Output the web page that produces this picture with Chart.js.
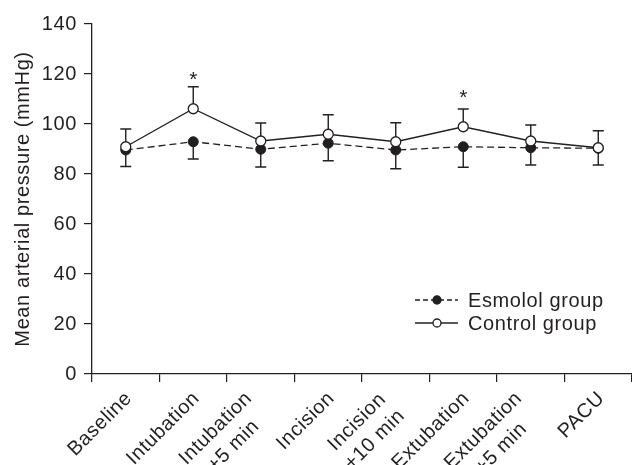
<!DOCTYPE html>
<html><head><meta charset="utf-8">
<script src="https://cdn.jsdelivr.net/npm/chart.js@4/dist/chart.umd.min.js"></script>
<style>html,body{margin:0;padding:0;background:#fff;}canvas{display:block;}</style>
</head><body>
<canvas id="c" width="632" height="465" style="width:632px;height:465px"></canvas>
<script>
const categories = ['Baseline', 'Intubation', ['Intubation', '+5 min'], 'Incision', ['Incision', '+10 min'], 'Extubation', ['Extubation', '+5 min'], 'PACU'];
const esmololMean = [89.6, 92.9, 89.9, 92.3, 89.6, 90.9, 90.5, 90.3];
const esmololSD   = [6.6, 6.9, 7.1, 7.0, 7.5, 8.2, 6.9, 6.7];
const controlMean = [90.9, 106.1, 93.2, 95.9, 92.9, 98.9, 93.2, 90.5];
const controlSD   = [7.1, 8.8, 7.2, 7.8, 7.6, 7.1, 6.4, 6.8];
const significanceMark = [null, 120, null, null, null, 113, null, null];
const seriesNames = ['Esmolol group', 'Control group'];
const yMin = 0, yMax = 140, yStep = 20;
const yTitle = 'Mean arterial pressure (mmHg)';

const INK = '#231f20';
const FONT = "'Liberation Sans', Arial, Helvetica, sans-serif";
const SPACING = '0.6px';
Chart.defaults.font.family = FONT;
Chart.defaults.font.size = 20;
Chart.defaults.color = INK;

const spacingPlugin = {
  id: 'spacing',
  beforeUpdate(c) { c.ctx.letterSpacing = SPACING; },
  beforeDraw(c) { c.ctx.letterSpacing = SPACING; },
  resize(c) { c.ctx.letterSpacing = SPACING; }
};

const errorBars = {
  id: 'errorBars',
  beforeDatasetsDraw(chart) {
    const { ctx, scales: { x, y } } = chart;
    ctx.save();
    ctx.strokeStyle = INK;
    ctx.lineWidth = 1.4;
    const cap = 5.5;
    categories.forEach((_, i) => {
      const px = x.getPixelForValue(i);
      const seg = (v0, v1) => {
        const a = y.getPixelForValue(v0), b = y.getPixelForValue(v1);
        ctx.beginPath();
        ctx.moveTo(px, a); ctx.lineTo(px, b);
        ctx.moveTo(px - cap, b); ctx.lineTo(px + cap, b);
        ctx.stroke();
      };
      seg(controlMean[i], controlMean[i] + controlSD[i]);
      seg(esmololMean[i], esmololMean[i] - esmololSD[i]);
    });
    ctx.restore();
  },
  afterDatasetsDraw(chart) {
    const { ctx, scales: { x, y } } = chart;
    ctx.save();
    ctx.fillStyle = INK;
    ctx.font = '21px ' + FONT;
    ctx.letterSpacing = '0px';
    ctx.textAlign = 'center';
    ctx.textBaseline = 'alphabetic';
    significanceMark.forEach((v, i) => {
      if (v === null) return;
      ctx.fillText('*', x.getPixelForValue(i), y.getPixelForValue(v) + 12);
    });
    ctx.restore();
  }
};

const xLabels = {
  id: 'xLabels',
  afterDraw(chart) {
    const { ctx, scales: { x } } = chart;
    ctx.save();
    ctx.font = '20px ' + FONT;
    ctx.letterSpacing = SPACING;
    ctx.fillStyle = INK;
    ctx.textBaseline = 'alphabetic';
    ctx.textAlign = 'center';
    const capH = 14.3, lineStep = 25;
    categories.forEach((c, i) => {
      const lines = Array.isArray(c) ? c : [c];
      const multi = lines.length > 1;
      const px = x.getPixelForValue(i);
      const w = Math.max(...lines.map(l => ctx.measureText(l).width));
      ctx.save();
      ctx.translate(px + (multi ? -18 : -3), x.top + 15);
      ctx.rotate(-Math.PI / 4);
      lines.forEach((l, j) => ctx.fillText(l, -w / 2, capH + j * lineStep));
      ctx.restore();
    });
    ctx.restore();
  }
};

const customLegend = {
  id: 'customLegend',
  afterDraw(chart) {
    const ctx = chart.ctx;
    ctx.save();
    ctx.strokeStyle = INK;
    ctx.lineWidth = 1.3;
    ctx.font = '20px ' + FONT;
    ctx.letterSpacing = SPACING;
    ctx.fillStyle = INK;
    ctx.textBaseline = 'middle';
    ctx.textAlign = 'left';
    const rows = [300, 323];
    const x0 = 415, x1 = 458, xc = 437, xt = 468;
    chart.data.datasets.forEach((ds, i) => {
      const yy = rows[i];
      ctx.setLineDash(i === 0 ? [5, 3] : []);
      ctx.beginPath(); ctx.moveTo(x0, yy); ctx.lineTo(x1, yy); ctx.stroke();
      ctx.setLineDash([]);
      ctx.beginPath(); ctx.arc(xc, yy, 4, 0, Math.PI * 2);
      ctx.fillStyle = ds.pointBackgroundColor; ctx.fill(); ctx.stroke();
      ctx.fillStyle = INK;
      ctx.fillText(ds.label, xt, yy + 1);
    });
    ctx.restore();
  }
};

new Chart(document.getElementById('c'), {
  type: 'line',
  data: {
    labels: categories,
    datasets: [
      { label: seriesNames[0], data: esmololMean, borderColor: INK, borderWidth: 1.3, borderDash: [7, 4],
        pointRadius: 5, pointBackgroundColor: INK, pointBorderColor: INK, pointBorderWidth: 1, order: 2 },
      { label: seriesNames[1], data: controlMean, borderColor: INK, borderWidth: 1.3,
        pointRadius: 5, pointBackgroundColor: '#ffffff', pointBorderColor: INK, pointBorderWidth: 1.3, order: 1 }
    ]
  },
  options: {
    responsive: false,
    animation: false,
    devicePixelRatio: 1,
    layout: { autoPadding: false, padding: { top: 24, right: 0, left: 0, bottom: 0 } },
    plugins: { legend: { display: false }, tooltip: { enabled: false } },
    scales: {
      x: {
        type: 'category', offset: true,
        grid: { offset: true, drawOnChartArea: false, drawTicks: true, tickLength: 8, color: INK, lineWidth: 1.2 },
        border: { display: true, color: INK, width: 1.3 },
        ticks: { display: false, autoSkip: false },
        afterFit(s) { s.height = 91; s.paddingLeft = 0; s.paddingRight = 0; }
      },
      y: {
        min: yMin, max: yMax,
        ticks: { stepSize: yStep, padding: 7, color: INK },
        grid: { drawOnChartArea: false, drawTicks: true, tickLength: 8, color: INK, lineWidth: 1.2 },
        border: { display: true, color: INK, width: 1.3 },
        title: { display: true, text: yTitle, color: INK, padding: { top: 11, bottom: 0 } },
        afterFit(s) { s.width = 92; }
      }
    }
  },
  plugins: [spacingPlugin, errorBars, xLabels, customLegend]
});
</script>
</body></html>
